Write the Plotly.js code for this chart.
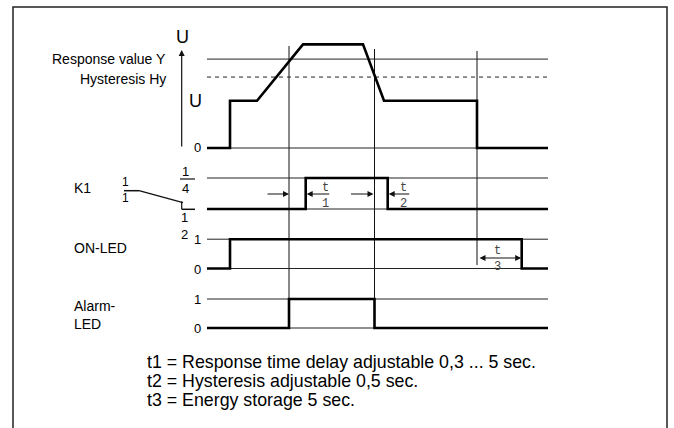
<!DOCTYPE html>
<html>
<head>
<meta charset="utf-8">
<script src="https://cdn.plot.ly/plotly-3.0.1.min.js"></script>
<style>html,body{margin:0;padding:0;background:#fff;}#chart{width:674px;height:428px;}</style>
</head>
<body>
<div id="chart"></div>
<script>
// ---------- data (time in arbitrary units) ----------
const timeU     = [0, 2.3, 2.3, 5.0, 9.6, 15.6, 17.7, 27.0, 27.0, 34.1];
const valueU    = [0, 0, 2.0, 2.0, 4.38, 4.38, 2.0, 2.0, 0, 0];
const levelY    = 3.76;   // response value Y
const levelHy   = 3.0;    // hysteresis Hy
const timeK1    = [0, 9.87, 9.87, 18.07, 18.07, 34.1];
const valueK1   = [0, 0, 1, 1, 0, 0];
const timeOn    = [0, 2.3, 2.3, 31.47, 31.47, 34.1];
const valueOn   = [0, 0, 1, 1, 0, 0];
const timeAlarm = [0, 8.2, 8.2, 16.75, 16.75, 34.1];
const valueAlarm= [0, 0, 1, 1, 0, 0];
const markerTimes = [8.2, 16.75, 27.0];       // Y crossing, Hy crossing, U off
const tEnd = 34.1;
const rowNames = ["K1", "ON-LED", "Alarm-<br>LED"];
const intervalNames = ["t<br>1", "t<br>2", "t<br>3"];
const notes = [
  "t1 = Response time delay adjustable 0,3 ... 5 sec.",
  "t2 = Hysteresis adjustable 0,5 sec.",
  "t3 = Energy storage 5 sec."
];

// ---------- layout helpers ----------
const W = 674, H = 428;
const X0PX = 207, XSCALE = 10;                 // px of time 0, px per time unit
const PX = x => x / W;
const PY = y => 1 - y / H;
const tOf = px => (px - X0PX) / XSCALE;
function yr(basePx, unitPx){ return [(basePx - H) / unitPx, basePx / unitPx]; }
const rows = { y: [148, 23.65], y2: [209, 31], y3: [268.5, 29.3], y4: [328, 29] };

const thick = {color: '#000', width: 2.6};
const traces = [
  {x: timeU, y: valueU, yaxis: 'y', mode: 'lines', line: thick, hoverinfo: 'skip'},
  {x: timeK1, y: valueK1, yaxis: 'y2', mode: 'lines', line: thick, hoverinfo: 'skip'},
  {x: timeOn, y: valueOn, yaxis: 'y3', mode: 'lines', line: thick, hoverinfo: 'skip'},
  {x: timeAlarm, y: valueAlarm, yaxis: 'y4', mode: 'lines', line: thick, hoverinfo: 'skip'}
];

const thin = {color: '#222', width: 1};
const shapes = [];
function hline(yref, v, dash){
  shapes.push({type: 'line', xref: 'x', yref: yref, x0: 0, x1: tEnd, y0: v, y1: v,
               line: Object.assign({}, thin, dash ? {dash: dash} : {}), layer: 'below'});
}
hline('y', levelY); hline('y', levelHy, '4px,4px'); hline('y', 0);
hline('y2', 0); hline('y2', 1);
hline('y3', 0); hline('y3', 1);
hline('y4', 0); hline('y4', 1);
const vTop = [46, 49, 51], vBot = [328, 328, 265];
markerTimes.forEach((t, i) => shapes.push({type: 'line', xref: 'x', yref: 'paper',
  x0: t, x1: t, y0: PY(vTop[i]), y1: PY(vBot[i]), line: {color: '#111', width: 1}, layer: 'below'}));
function pline(x0, y0, x1, y1, w){
  shapes.push({type: 'line', xref: 'paper', yref: 'paper', x0: PX(x0), y0: PY(y0), x1: PX(x1), y1: PY(y1),
               line: {color: '#111', width: w || 1.2}});
}
// frame
shapes.push({type: 'path', xref: 'paper', yref: 'paper',
  path: `M ${PX(13)} -0.1 L ${PX(13)} ${PY(7)} L ${PX(667)} ${PY(7)} L ${PX(667)} -0.1`,
  line: {color: '#222', width: 1.5}});
// switch symbol
pline(124, 190.7, 139, 190.7, 1.5);
pline(139, 190.7, 183, 202.7, 1.3);
pline(181.7, 201.5, 181.7, 209.3, 1.2);
pline(181.7, 209.3, 195, 209.3, 1.5);
pline(180, 179, 195, 179, 1.2);

// ---------- annotations ----------
const sans = 'Liberation Sans, Arial, sans-serif';
const mono = 'Liberation Mono, DejaVu Sans Mono, monospace';
const ann = [];
function txt(text, x, y, size, anchor, font){
  ann.push({text: text, xref: 'paper', yref: 'paper', x: PX(x), y: PY(y), showarrow: false,
            xanchor: anchor || 'center', yanchor: 'middle', align: anchor === 'right' ? 'right' : (anchor === 'left' ? 'left' : 'center'),
            borderpad: 0,
            font: {family: font || sans, size: size, color: font === mono ? '#444' : '#000'}});
}
txt('U', 182, 37, 18);
txt('Response value Y', 167, 59, 14, 'right');
txt('Hysteresis Hy', 167, 79, 14, 'right');
txt('U', 195, 101, 18);
txt('0', 197, 148, 13);
txt(rowNames[0], 73, 188, 14, 'left');
txt('1<br>1', 126, 190, 12);
txt('1<br>4', 185, 179.5, 13);
txt('1<br>2', 184, 226, 13);
txt('1', 197, 239, 13); txt('0', 197, 269, 13);
txt(rowNames[1], 73, 248, 14, 'left');
txt('1', 197, 299, 13); txt('0', 197, 328, 13);
txt(rowNames[2], 73, 315, 14, 'left');
notes.forEach((n, i) => txt(n, 146, 362 + i * 19, 17.8, 'left'));
// time-interval labels
txt(intervalNames[0], 325, 195.5, 12, 'center', mono);
txt(intervalNames[1], 403, 195.5, 12, 'center', mono);
txt(intervalNames[2], 497, 258.5, 12, 'center', mono);

// arrows
function arrow(xTip, yTip, xTail, yTail, yref, side){
  ann.push({x: xTip, y: yTip, xref: 'x', yref: yref, ax: xTail, ay: yTail, axref: 'x', ayref: yref,
            text: '', showarrow: true, arrowhead: 2, arrowsize: 1, arrowwidth: 1.2, arrowcolor: '#111',
            arrowside: side || 'end', standoff: 0, startstandoff: 0});
}
const yArr = (209 - 194) / 31;
arrow(markerTimes[0], yArr, markerTimes[0] - 2.3, yArr, 'y2');
arrow(timeK1[1] + 0.1, yArr, timeK1[1] + 2.5, yArr, 'y2');
arrow(markerTimes[1] - 0.1, yArr, markerTimes[1] - 2.5, yArr, 'y2');
arrow(timeK1[3] + 0.1, yArr, timeK1[3] + 2.3, yArr, 'y2');
const yArr3 = (268.5 - 258) / 29.3;
arrow(timeOn[3] - 0.05, yArr3, markerTimes[2] + 0.1, yArr3, 'y3', 'end+start');
// U axis arrow
arrow(tOf(181.7), (148 - 50) / 23.65, tOf(181.7), 0, 'y');

const axBase = {visible: false, showgrid: false, zeroline: false, fixedrange: true};
const layout = {
  width: W, height: H, margin: {l: 0, r: 0, t: 0, b: 0},
  paper_bgcolor: '#fff', plot_bgcolor: '#fff', showlegend: false,
  xaxis: Object.assign({}, axBase, {range: [tOf(0), tOf(W)], domain: [0, 1]}),
  yaxis: Object.assign({}, axBase, {range: yr(...rows.y), domain: [0, 1]}),
  yaxis2: Object.assign({}, axBase, {range: yr(...rows.y2), overlaying: 'y'}),
  yaxis3: Object.assign({}, axBase, {range: yr(...rows.y3), overlaying: 'y'}),
  yaxis4: Object.assign({}, axBase, {range: yr(...rows.y4), overlaying: 'y'}),
  shapes: shapes, annotations: ann
};
Plotly.newPlot('chart', traces, layout, {staticPlot: true, displayModeBar: false});
</script>
</body>
</html>
